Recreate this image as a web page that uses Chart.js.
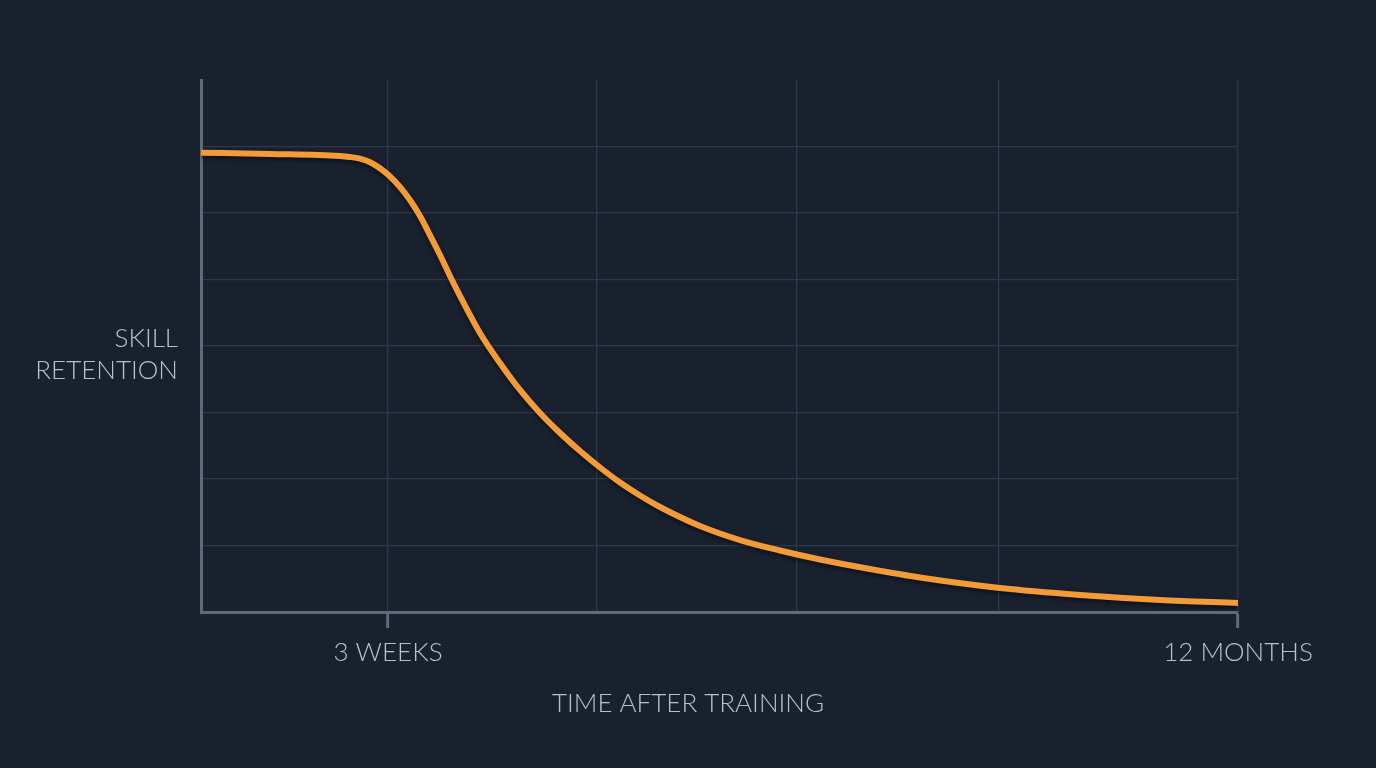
<!DOCTYPE html>
<html lang="en">
<head>
    <meta charset="UTF-8">
    <title>Skill retention after training</title>
    <script src="https://cdn.jsdelivr.net/npm/chart.js"></script>
    <style>
        html, body {
            margin: 0;
            padding: 0;
            background-color: #19202e;
            overflow: hidden;
        }
        canvas {
            display: block;
        }
    </style>
</head>
<body>
    <canvas id="retentionChart" width="1376" height="768"></canvas>

    <script>
        // schematic time axis (0 = end of training, 100 = 12 months)
        const timePos = [0, 6.65, 13.40, 14.37, 15.33, 16.30, 17.26, 18.23, 19.19, 20.15, 21.12,
            22.08, 23.05, 24.01, 24.98, 26.90, 28.83, 30.76, 32.69, 34.62, 36.55, 38.48, 40.41,
            42.33, 44.26, 48.12, 51.98, 55.83, 59.69, 64.51, 69.33, 77.05, 84.76, 92.48, 100];
        // retention, % of the axis height
        const retention = [86.33, 86.09, 85.71, 85.53, 85.21, 84.53, 83.40, 81.86, 79.89, 77.44, 74.44,
            70.86, 67.11, 63.16, 59.40, 52.44, 46.80, 41.73, 37.41, 33.65, 30.26, 27.16, 24.34,
            21.90, 19.74, 16.17, 13.53, 11.56, 9.87, 8.08, 6.48, 4.51, 3.20, 2.26, 1.69];

        // vertical grid lines and their labels
        const xGridTicks = [18.03, 38.19, 57.47, 76.95, 100];
        const xTickLabels = ['3 WEEKS', '', '', '', '12 MONTHS'];

        const yLabelLines = ['SKILL', 'RETENTION'];
        const xTitle = 'TIME AFTER TRAINING';

        const gridColor = '#2d394b';
        const axisColor = '#5e6b7b';
        const textColor = '#b7c1cd';
        const lineColor = '#f29b38';
        const labelFont = '300 26px Lato, "Open Sans", sans-serif';

        // soft shadow under the curve
        const shadowPlugin = {
            id: 'lineShadow',
            beforeDatasetDraw(chart) {
                const ctx = chart.ctx;
                ctx.save();
                ctx.shadowColor = 'rgba(0, 0, 0, 0.55)';
                ctx.shadowBlur = 4;
                ctx.shadowOffsetY = 2;
            },
            afterDatasetDraw(chart) {
                chart.ctx.restore();
            }
        };

        // horizontal axis labels
        const labelsPlugin = {
            id: 'axisLabels',
            afterDraw(chart) {
                const ctx = chart.ctx;
                const area = chart.chartArea;
                ctx.save();
                ctx.font = labelFont;
                ctx.fillStyle = textColor;
                ctx.textBaseline = 'alphabetic';
                ctx.textAlign = 'right';
                ctx.fillText(yLabelLines[0], area.left - 23, 347);
                ctx.fillText(yLabelLines[1], area.left - 23, 379);
                ctx.textAlign = 'center';
                ctx.fillText(xTitle, area.left + 487, 712);
                ctx.restore();
            }
        };

        new Chart(document.getElementById('retentionChart'), {
            type: 'line',
            data: {
                datasets: [{
                    data: timePos.map((t, i) => ({ x: t, y: retention[i] })),
                    borderColor: lineColor,
                    borderWidth: 6,
                    borderCapStyle: 'round',
                    borderJoinStyle: 'round',
                    pointRadius: 0,
                    cubicInterpolationMode: 'monotone',
                    fill: false
                }]
            },
            options: {
                responsive: false,
                animation: false,
                layout: {
                    padding: { top: 80, left: 201, right: 138, bottom: 56 }
                },
                plugins: {
                    legend: { display: false },
                    tooltip: { enabled: false }
                },
                scales: {
                    x: {
                        type: 'linear',
                        min: 0,
                        max: 100,
                        afterBuildTicks: scale => {
                            scale.ticks = xGridTicks.map(v => ({ value: v }));
                        },
                        afterFit: scale => {
                            scale.height = 100;
                            scale.paddingLeft = 0;
                            scale.paddingRight = 0;
                        },
                        ticks: {
                            autoSkip: false,
                            maxRotation: 0,
                            padding: 9,
                            color: textColor,
                            font: { family: 'Lato, "Open Sans", sans-serif', size: 26, weight: '300' },
                            callback: (value, index) => xTickLabels[index]
                        },
                        grid: {
                            color: gridColor,
                            lineWidth: 1.3,
                            drawTicks: true,
                            tickLength: 16,
                            tickWidth: 3,
                            tickColor: ctx => xTickLabels[ctx.index] ? axisColor : 'transparent'
                        },
                        border: { display: true, color: axisColor, width: 3 }
                    },
                    y: {
                        min: 0,
                        max: 100,
                        ticks: { display: false, stepSize: 12.5 },
                        afterFit: scale => {
                            scale.width = 0;
                            scale.paddingTop = 0;
                            scale.paddingBottom = 0;
                        },
                        grid: {
                            drawTicks: false,
                            lineWidth: 1.3,
                            color: ctx => (ctx.tick.value === 0 || ctx.tick.value === 100) ? 'transparent' : gridColor
                        },
                        border: { display: true, color: axisColor, width: 3 }
                    }
                }
            },
            plugins: [shadowPlugin, labelsPlugin]
        });
    </script>
</body>
</html>
